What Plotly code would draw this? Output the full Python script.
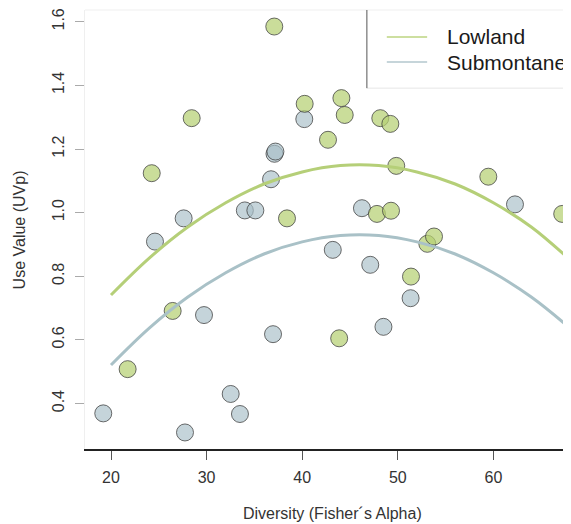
import plotly.graph_objects as go

# ---- data ----
low_x = [21.74, 24.26, 26.45, 28.44, 37.08, 38.41, 40.26, 42.70, 43.87, 44.10, 44.45,
         47.82, 48.17, 49.22, 49.29, 49.84, 51.38, 53.09, 53.79, 59.47, 67.20]
low_y = [0.508, 1.124, 0.691, 1.297, 1.585, 0.982, 1.342, 1.229, 0.605, 1.360, 1.307,
         0.996, 1.297, 1.279, 1.006, 1.147, 0.799, 0.902, 0.925, 1.113, 0.996]

sub_x = [19.19, 24.60, 27.60, 27.74, 29.73, 32.52, 33.49, 34.00, 35.10, 36.74, 36.95,
         37.10, 37.20, 40.22, 43.20, 46.25, 47.12, 48.50, 51.34, 62.26]
sub_y = [0.369, 0.909, 0.982, 0.309, 0.678, 0.430, 0.367, 1.007, 1.007, 1.105, 0.618,
         1.185, 1.192, 1.294, 0.883, 1.014, 0.836, 0.641, 0.731, 1.026]

curve_x = [20, 24, 28, 32, 36, 40, 44, 48, 52, 56, 60, 64, 68, 70]
low_curve_y = [0.741, 0.857, 0.954, 1.031, 1.090, 1.128, 1.148, 1.148, 1.128, 1.090,
               1.031, 0.954, 0.852, 0.795]
sub_curve_y = [0.521, 0.637, 0.734, 0.811, 0.870, 0.908, 0.928, 0.928, 0.908, 0.870,
               0.811, 0.734, 0.637, 0.582]

x_ticks = [20, 30, 40, 50, 60]
y_ticks = [0.4, 0.6, 0.8, 1.0, 1.2, 1.4, 1.6]
y_tick_text = ["0.4", "0.6", "0.8", "1.0", "1.2", "1.4", "1.6"]

series_names = ["Lowland", "Submontane"]

# ---- styles ----
FONT = "Liberation Sans, Arial, sans-serif"
green_fill = "rgba(182,208,115,0.72)"
blue_fill = "rgba(170,192,200,0.68)"
green_line = "#b5cf78"
blue_line = "#a9c1c7"
green_key = "#cddfa0"
blue_key = "#c6d5da"
outline = dict(color="rgba(60,60,60,0.75)", width=1)

fig = go.Figure()

fig.add_trace(go.Scatter(x=sub_x, y=sub_y, mode="markers", showlegend=False,
                         marker=dict(size=17, color=blue_fill, line=outline),
                         name=series_names[1]))
fig.add_trace(go.Scatter(x=low_x, y=low_y, mode="markers", showlegend=False,
                         marker=dict(size=17, color=green_fill, line=outline),
                         name=series_names[0]))

fig.add_trace(go.Scatter(x=curve_x, y=low_curve_y, mode="lines", name=series_names[0],
                         showlegend=False,
                         line=dict(color=green_line, width=3, shape="spline")))
fig.add_trace(go.Scatter(x=curve_x, y=sub_curve_y, mode="lines", name=series_names[1],
                         showlegend=False,
                         line=dict(color=blue_line, width=3, shape="spline")))

# legend key geometry (paper coordinates)
key_x0, key_x1, text_x = 0.621, 0.704, 0.741
key_y = [0.9385, 0.8815]
key_colors = [green_key, blue_key]

shapes = [
    dict(type="line", xref="paper", yref="paper", x0=0, x1=1, y0=1, y1=1,
         line=dict(color="#efefef", width=1)),
    dict(type="line", xref="paper", yref="paper", x0=0.580, x1=1.0, y0=0.822, y1=0.822,
         line=dict(color="#e6e6e6", width=1)),
    dict(type="line", xref="paper", yref="paper", x0=0.580, x1=0.580, y0=0.822, y1=1.0,
         line=dict(color="#555", width=1)),
]
annotations = [
    dict(text="Diversity (Fisher\u00b4s Alpha)", xref="paper", yref="paper",
         x=0.510, y=-0.147, xanchor="center", yanchor="middle", showarrow=False,
         font=dict(size=16, color="#333")),
    dict(text="Use Value (UVp)", xref="paper", yref="paper",
         x=-0.134, y=0.5, xanchor="center", yanchor="middle", showarrow=False,
         textangle=-90, font=dict(size=16, color="#333")),
]
for name, ky, kc in zip(series_names, key_y, key_colors):
    shapes.append(dict(type="line", xref="paper", yref="paper", x0=key_x0, x1=key_x1,
                       y0=ky, y1=ky, line=dict(color=kc, width=2)))
    annotations.append(dict(text=name, xref="paper", yref="paper", x=text_x, y=ky,
                            xanchor="left", yanchor="middle", showarrow=False,
                            font=dict(size=21, color="#1a1a1a")))

# the page body adds an 8px offset, so the figure is 8px smaller on each axis
fig.update_layout(
    width=563, height=516,
    margin=dict(l=77, r=0, t=2, b=75, autoexpand=False),
    paper_bgcolor="white", plot_bgcolor="white",
    font=dict(family=FONT, size=16, color="#333"),
    showlegend=False,
    xaxis=dict(range=[17.28, 68.12], tickvals=x_ticks, ticks="outside", ticklen=9,
               tickcolor="#555", tickwidth=1, showline=True, linecolor="#222",
               linewidth=1.5, showgrid=False, zeroline=False, automargin=False,
               tickfont=dict(size=16, color="#333"), ticklabelstandoff=4),
    yaxis=dict(range=[0.257, 1.637], tickvals=y_ticks, ticktext=y_tick_text,
               ticks="outside", ticklen=9, tickcolor="#aaa", tickwidth=1,
               tickangle=-90, showline=True, linecolor="#efefef", linewidth=1,
               showgrid=False, zeroline=False, automargin=False,
               tickfont=dict(size=16, color="#333"), ticklabelstandoff=5),
    shapes=shapes,
    annotations=annotations,
)

fig.write_html("out.html")
